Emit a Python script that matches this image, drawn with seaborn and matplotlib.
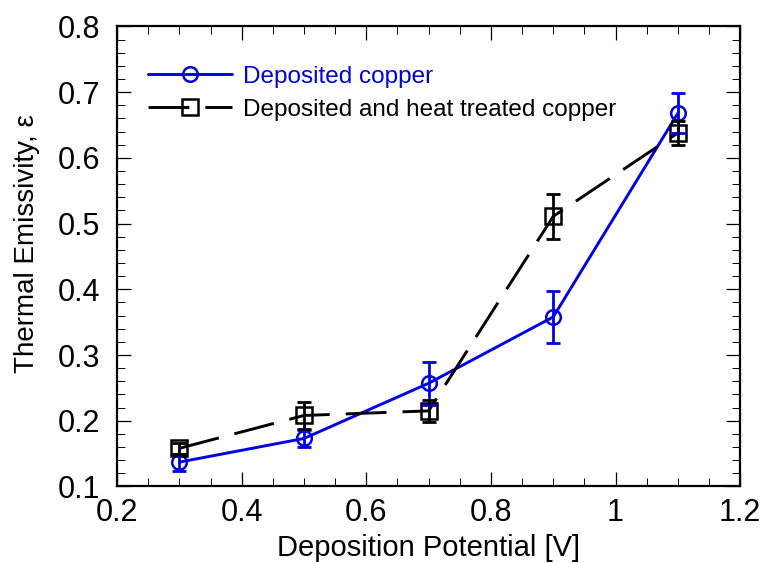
import matplotlib
matplotlib.use("Agg")
import matplotlib.pyplot as plt
from matplotlib.ticker import MultipleLocator, FuncFormatter
import seaborn as sns
import pandas as pd

# Deposition potential [V]
potential = [0.3, 0.5, 0.7, 0.9, 1.1]

# Thermal emissivity of as-deposited copper and its standard deviation
deposited = [0.137, 0.173, 0.257, 0.358, 0.668]
deposited_err = [0.013, 0.013, 0.033, 0.040, 0.030]

# Thermal emissivity after heat treatment and its standard deviation
heat_treated = [0.158, 0.208, 0.215, 0.511, 0.638]
heat_treated_err = [0.008, 0.020, 0.017, 0.034, 0.018]

labels = ["Deposited copper", "Deposited and heat treated copper"]
x_ticks = [0.2, 0.4, 0.6, 0.8, 1.0, 1.2]
y_ticks = [0.1, 0.2, 0.3, 0.4, 0.5, 0.6, 0.7, 0.8]

BLUE = "#0000e6"
BLACK = "#000000"

sns.set_theme(style="ticks")
plt.rcParams["font.family"] = ["Liberation Sans", "DejaVu Sans"]
plt.rcParams["text.color"] = BLACK
plt.rcParams["axes.labelcolor"] = BLACK

df = pd.DataFrame({
    "potential": potential * 2,
    "emissivity": deposited + heat_treated,
    "series": [labels[0]] * len(potential) + [labels[1]] * len(potential),
})

fig = plt.figure(figsize=(7.6, 5.63), dpi=100)
ax = fig.add_axes([0.154, 0.136, 0.820, 0.817])

lw = 2.1
sns.lineplot(data=df, x="potential", y="emissivity", hue="series", style="series",
             palette=[BLUE, BLACK], markers=["o", "s"], dashes=[(None, None), (14, 5.5)],
             linewidth=lw, markersize=10.5, markerfacecolor="none",
             markeredgewidth=1.8, ax=ax, sort=False, zorder=3)

# Square markers are drawn a little larger than the circles
for line in ax.lines:
    if line.get_marker() == "s":
        line.set_markersize(11.5)
    line.set_markeredgecolor(line.get_color())

ax.errorbar(potential, deposited, yerr=deposited_err, fmt="none", ecolor=BLUE,
            elinewidth=2.0, capsize=5, capthick=2.0, zorder=4)
ax.errorbar(potential, heat_treated, yerr=heat_treated_err, fmt="none", ecolor=BLACK,
            elinewidth=2.0, capsize=5, capthick=2.0, zorder=4)

ax.set_xlim(0.2, 1.2)
ax.set_ylim(0.1, 0.8)
ax.set_xticks(x_ticks)
ax.set_yticks(y_ticks)
ax.xaxis.set_minor_locator(MultipleLocator(0.05))
ax.yaxis.set_minor_locator(MultipleLocator(0.02))
ax.xaxis.set_major_formatter(FuncFormatter(lambda v, p: f"{v:g}"))
ax.yaxis.set_major_formatter(FuncFormatter(lambda v, p: f"{v:.1f}"))

ax.tick_params(which="both", direction="in", top=True, right=True, colors=BLACK)
ax.tick_params(which="major", length=10, width=0.9, labelsize=22)
ax.tick_params(axis="x", which="major", pad=8)
ax.tick_params(axis="y", which="major", pad=12)
ax.tick_params(which="minor", length=5.5, width=0.7)
for spine in ax.spines.values():
    spine.set_visible(True)
    spine.set_linewidth(1.6)
    spine.set_color(BLACK)

ax.set_xlabel("Deposition Potential [V]", fontsize=21)
ax.xaxis.set_label_coords(0.5, -0.104)
ax.set_ylabel("Thermal Emissivity, ε", fontsize=20)
ax.yaxis.set_label_coords(-0.124, 0.529)

leg = ax.legend(loc="upper left", bbox_to_anchor=(0.05, 0.915), frameon=False,
                fontsize=17.5, handlelength=3.45, handletextpad=0.45,
                labelspacing=0.45, borderpad=0, borderaxespad=0)
leg.get_texts()[0].set_color(BLUE)
leg.get_texts()[1].set_color(BLACK)

fig.savefig("out.png", dpi=100)
